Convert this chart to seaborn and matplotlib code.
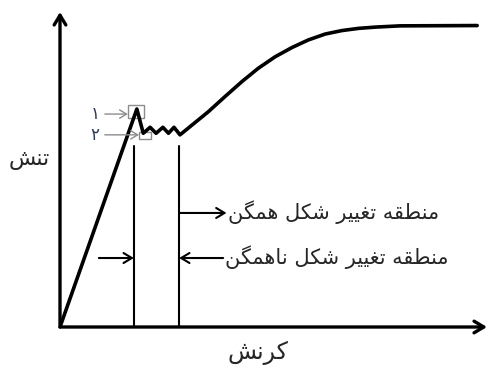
import matplotlib
matplotlib.use("Agg")
import matplotlib.pyplot as plt
import seaborn as sns
import pandas as pd

# strain / stress points (arbitrary units, 0-100)
strain = [0, 18.0, 19.5, 21.1, 22.5, 24.1, 25.4, 26.7, 28.1,
          34.7, 38.6, 42.6, 46.4, 50.4, 54.3, 58.1, 62.1, 66.0,
          69.9, 73.8, 79.6, 97.7]
stress = [0, 69.2, 61.5, 63.4, 61.5, 63.4, 61.5, 63.4, 61.0,
          68.3, 73.1, 77.9, 82.1, 85.8, 88.7, 91.1, 93.0, 94.1,
          94.8, 95.2, 95.6, 95.7]

# region borders (strain) and labels
region_edges = [17.3, 27.9]
region_top = 57.5
x_label = "کرنش"
y_label = "تنش"
label_homog = "منطقه تغییر شکل همگن"
label_inhomog = "منطقه تغییر شکل ناهمگن"
point_labels = ["۱", "۲"]

# presentation forms: isolated, final, initial, medial
FORMS = {
    "ا": ("\uFE8D", "\uFE8E", None, None),
    "ر": ("\uFEAD", "\uFEAE", None, None),
    "ت": ("\uFE95", "\uFE96", "\uFE97", "\uFE98"),
    "ن": ("\uFEE5", "\uFEE6", "\uFEE7", "\uFEE8"),
    "ش": ("\uFEB5", "\uFEB6", "\uFEB7", "\uFEB8"),
    "م": ("\uFEE1", "\uFEE2", "\uFEE3", "\uFEE4"),
    "ط": ("\uFEC1", "\uFEC2", "\uFEC3", "\uFEC4"),
    "ق": ("\uFED5", "\uFED6", "\uFED7", "\uFED8"),
    "ه": ("\uFEE9", "\uFEEA", "\uFEEB", "\uFEEC"),
    "غ": ("\uFECD", "\uFECE", "\uFECF", "\uFED0"),
    "ل": ("\uFEDD", "\uFEDE", "\uFEDF", "\uFEE0"),
    "ک": ("\uFB8E", "\uFB8F", "\uFB90", "\uFB91"),
    "گ": ("\uFB92", "\uFB93", "\uFB94", "\uFB95"),
    "ی": ("\uFBFC", "\uFBFD", "\uFBFE", "\uFBFF"),
}


def fa(text):
    # tiny reshaper: join letters, then put in visual (right-to-left) order
    out = []
    for i, c in enumerate(text):
        if c not in FORMS:
            out.append(c)
            continue
        prev = text[i - 1] if i > 0 else ""
        nxt = text[i + 1] if i + 1 < len(text) else ""
        join_prev = prev in FORMS and FORMS[prev][2] is not None
        join_next = nxt in FORMS and FORMS[c][2] is not None
        iso, fin, ini, med = FORMS[c]
        if join_prev and join_next:
            out.append(med)
        elif join_prev:
            out.append(fin)
        elif join_next:
            out.append(ini)
        else:
            out.append(iso)
    return "".join(out)[::-1]


sns.set_style("white")
plt.rcParams["font.family"] = ["DejaVu Sans"]

df = pd.DataFrame({"strain": strain, "stress": stress})

fig = plt.figure(figsize=(4.89, 3.65), dpi=100)
ax = fig.add_axes([60 / 489, 38 / 365, 427 / 489, 315 / 365])
sns.lineplot(data=df, x="strain", y="stress", sort=False, color="black",
             linewidth=2.6, ax=ax)
ax.set_xlim(0, 100)
ax.set_ylim(0, 100)
ax.axis("off")

# axes as arrows
arrow_kw = dict(arrowstyle="->,head_length=0.5,head_width=0.3", color="black",
                lw=2.4, mutation_scale=14, shrinkA=0, shrinkB=0)
ax.annotate("", xy=(100, 0), xytext=(0, 0), arrowprops=arrow_kw,
            annotation_clip=False)
ax.annotate("", xy=(0, 100), xytext=(0, 0), arrowprops=arrow_kw,
            annotation_clip=False)

# region borders
for xe in region_edges:
    ax.plot([xe, xe], [0, region_top], color="black", lw=1.5)

thin = dict(arrowstyle="->,head_length=0.5,head_width=0.3", color="black",
            lw=1.5, mutation_scale=12, shrinkA=0, shrinkB=0)
ax.annotate("", xy=(region_edges[0], 21.9), xytext=(9.1, 21.9), arrowprops=thin)
ax.annotate("", xy=(region_edges[1], 21.9), xytext=(38.2, 21.9), arrowprops=thin)
ax.annotate("", xy=(39.0, 36.2), xytext=(region_edges[1], 36.2), arrowprops=thin)

ax.text(39.3, 36.4, fa(label_homog), fontsize=15, ha="left", va="center")
ax.text(38.6, 22.1, fa(label_inhomog), fontsize=15, ha="left", va="center")

# upper / lower yield point markers
ax.add_patch(plt.Rectangle((15.9, 66.3), 3.8, 4.2, fill=False,
                           edgecolor="#8c8c8c", lw=1.0))
ax.add_patch(plt.Rectangle((18.5, 59.7), 2.8, 2.2, fill=False,
                           edgecolor="#8c8c8c", lw=1.0))
grey = dict(arrowstyle="->,head_length=0.5,head_width=0.3", color="#8c8c8c",
            lw=1.0, mutation_scale=10, shrinkA=0, shrinkB=0)
ax.annotate("", xy=(15.9, 67.6), xytext=(10.5, 67.6), arrowprops=grey)
ax.annotate("", xy=(18.5, 61.0), xytext=(10.5, 61.0), arrowprops=grey)
ax.text(8.2, 67.6, point_labels[0], fontsize=12, color="#2f3b55",
        ha="center", va="center")
ax.text(8.2, 61.0, point_labels[1], fontsize=12, color="#2f3b55",
        ha="center", va="center")

ax.text(-7.2, 53.0, fa(y_label), fontsize=16, ha="center", va="center",
        clip_on=False)
ax.text(46.4, -8.2, fa(x_label), fontsize=17, ha="center", va="center",
        clip_on=False)

fig.savefig("out.png", dpi=100)
